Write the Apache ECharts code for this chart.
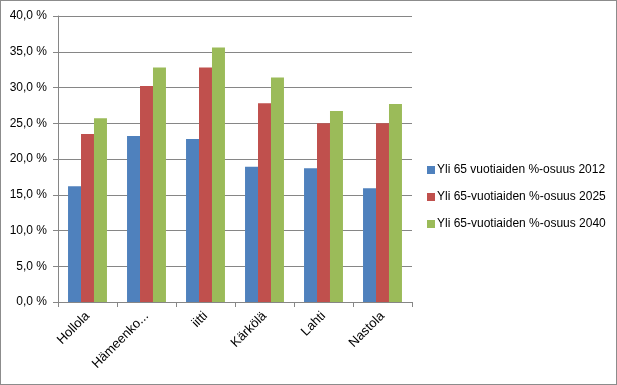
<!DOCTYPE html>
<html><head><meta charset="utf-8">
<script src="https://cdn.jsdelivr.net/npm/echarts@6/dist/echarts.min.js"></script>
<style>html,body{margin:0;padding:0;background:#fff}#c{width:617px;height:385px;box-sizing:border-box;border:1px solid #8c8c8c}</style>
</head><body><div id="c"></div>
<script>
const categories = ['Hollola','Hämeenko...','iitti','Kärkölä','Lahti','Nastola'];
const seriesNames = ['Yli 65 vuotiaiden %-osuus 2012','Yli 65-vuotiaiden %-osuus 2025','Yli 65-vuotiaiden %-osuus 2040'];
const values2012 = [16.2, 23.2, 22.8, 18.9, 18.7, 15.9];
const values2025 = [23.5, 30.2, 32.8, 27.8, 25.0, 25.0];
const values2040 = [25.7, 32.8, 35.6, 31.4, 26.7, 27.7];
const colors = ['#4F81BD','#C0504D','#9BBB59'];
const font = '"Liberation Sans", Arial, sans-serif';
const chart = echarts.init(document.getElementById('c'));
const data = [values2012, values2025, values2040];
chart.setOption({
  animation:false,
  color: colors,
  grid:{left:57,right:204,top:15,bottom:82,containLabel:false},
  legend:{
    orient:'vertical', left:421, top:158, itemWidth:8, itemHeight:8, itemGap:15,
    icon:'rect', textStyle:{fontFamily:font,fontSize:12,color:'#000',padding:[0,0,0,-3]},
    data: seriesNames
  },
  xAxis:{
    type:'category', data:categories,
    axisLine:{lineStyle:{color:'#868686'}},
    axisTick:{show:true,alignWithLabel:false,length:5,lineStyle:{color:'#868686'}},
    axisLabel:{rotate:45,fontFamily:font,fontSize:13,color:'#000',margin:12,interval:0}
  },
  yAxis:{
    type:'value', min:0, max:40, interval:5,
    axisLine:{show:true,lineStyle:{color:'#868686'}},
    axisTick:{show:true,length:5,lineStyle:{color:'#868686'}},
    splitLine:{lineStyle:{color:'#868686'}},
    axisLabel:{fontFamily:font,fontSize:12,color:'#000',margin:11,
      formatter:v=>v.toFixed(1).replace('.',',')+' %'}
  },
  series: seriesNames.map((n,i)=>({
    name:n, type:'bar', data:data[i], barGap:'0%', barCategoryGap:'34%'
  }))
});
</script></body></html>
